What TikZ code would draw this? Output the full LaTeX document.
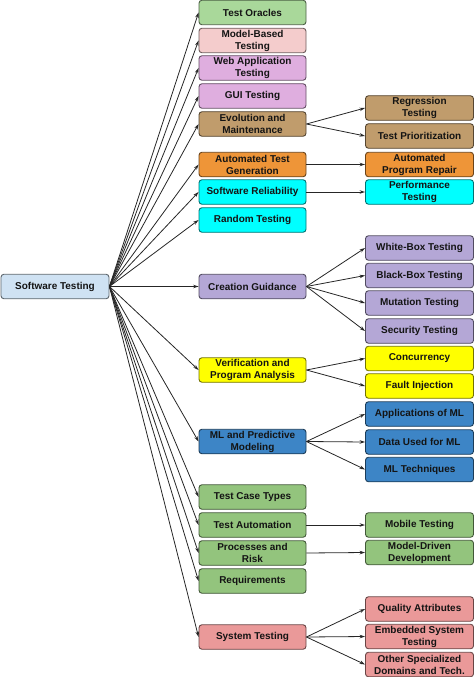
\documentclass[tikz,border=0pt]{standalone}
\usepackage{fontspec}
\setmainfont{Liberation Sans}
\usetikzlibrary{arrows.meta}
\definecolor{cRoot}{HTML}{CFE2F3}
\definecolor{cOra}{HTML}{A9D89A}
\definecolor{cMB}{HTML}{F4CCCC}
\definecolor{cWeb}{HTML}{DFAEDF}
\definecolor{cEvo}{HTML}{C09C6C}
\definecolor{cATG}{HTML}{EE9538}
\definecolor{cCyan}{HTML}{00FFFF}
\definecolor{cLav}{HTML}{B4A7D6}
\definecolor{cYel}{HTML}{FFFF00}
\definecolor{cBlue}{HTML}{3D85C6}
\definecolor{cGreen}{HTML}{93C47D}
\definecolor{cRed}{HTML}{EA9999}
\definecolor{cText}{HTML}{141414}
\tikzset{
  box/.style={rectangle, rounded corners=3bp, minimum width=107bp, minimum height=24.5bp,
    inner sep=0pt, align=center, text=cText, line width=0.9bp,
    font=\fontsize{10}{12}\selectfont\bfseries},
  fc/.style={box, fill=#1, draw=#1!45!black},
  arr/.style={-{Stealth[length=5.5bp,width=3.5bp]}, line width=0.8bp, black!85}
}
\begin{document}
\begin{tikzpicture}[x=1bp,y=-1bp]
\useasboundingbox (0,0) rectangle (474,677);
% root
\node[fc=cRoot, minimum width=108bp] (root) at (55,286.5) {Software Testing};
% middle column
\node[fc=cOra] (to) at (252.5,12.5) {Test Oracles};
\node[fc=cMB] (mb) at (252.5,40.5) {Model-Based\\Testing};
\node[fc=cWeb] (wa) at (252.5,68) {Web Application\\Testing};
\node[fc=cWeb] (gui) at (252.5,96) {GUI Testing};
\node[fc=cEvo] (em) at (252.5,124) {Evolution and\\Maintenance};
\node[fc=cATG] (atg) at (252.5,164.5) {Automated Test\\Generation};
\node[fc=cCyan] (sr) at (252.5,192) {Software Reliability};
\node[fc=cCyan] (rt) at (252.5,220) {Random Testing};
\node[fc=cLav] (cg) at (252.5,286.5) {Creation Guidance};
\node[fc=cYel] (vpa) at (252.5,370) {Verification and\\Program Analysis};
\node[fc=cBlue] (ml) at (252.5,441.5) {ML and Predictive\\Modeling};
\node[fc=cGreen] (tct) at (252.5,497) {Test Case Types};
\node[fc=cGreen] (ta) at (252.5,525) {Test Automation};
\node[fc=cGreen] (pr) at (252.5,553) {Processes and\\Risk};
\node[fc=cGreen] (req) at (252.5,581) {Requirements};
\node[fc=cRed] (st) at (252.5,637) {System Testing};
% right column
\node[fc=cEvo, minimum width=108bp] (reg) at (419.5,108) {Regression\\Testing};
\node[fc=cEvo, minimum width=108bp] (tp) at (419.5,136) {Test Prioritization};
\node[fc=cATG, minimum width=108bp] (apr) at (419.5,164.5) {Automated\\Program Repair};
\node[fc=cCyan, minimum width=108bp] (pt) at (419.5,192) {Performance\\Testing};
\node[fc=cLav, minimum width=108bp] (wb) at (419.5,248) {White-Box Testing};
\node[fc=cLav, minimum width=108bp] (bb) at (419.5,275.5) {Black-Box Testing};
\node[fc=cLav, minimum width=108bp] (mt) at (419.5,303) {Mutation Testing};
\node[fc=cLav, minimum width=108bp] (sec) at (419.5,331) {Security Testing};
\node[fc=cYel, minimum width=108bp] (conc) at (419.5,358.5) {Concurrency};
\node[fc=cYel, minimum width=108bp] (fi) at (419.5,386) {Fault Injection};
\node[fc=cBlue, minimum width=108bp] (aml) at (419.5,414) {Applications of ML};
\node[fc=cBlue, minimum width=108bp] (dml) at (419.5,442) {Data Used for ML};
\node[fc=cBlue, minimum width=108bp] (mlt) at (419.5,469.5) {ML Techniques};
\node[fc=cGreen, minimum width=108bp] (mob) at (419.5,525) {Mobile Testing};
\node[fc=cGreen, minimum width=108bp] (mdd) at (419.5,552.5) {Model-Driven\\Development};
\node[fc=cRed, minimum width=108bp] (qa) at (419.5,609) {Quality Attributes};
\node[fc=cRed, minimum width=108bp] (est) at (419.5,636.5) {Embedded System\\Testing};
\node[fc=cRed, minimum width=108bp] (osd) at (419.5,664.5) {Other Specialized\\Domains and Tech.};
% root edges
\foreach \n in {to,mb,wa,gui,em,atg,sr,rt,cg,vpa,ml,tct,ta,pr,req,st}
  \draw[arr] (root.east) -- (\n.west);
% child edges
\foreach \a/\b in {em/reg,em/tp,atg/apr,sr/pt,cg/wb,cg/bb,cg/mt,cg/sec,vpa/conc,vpa/fi,ml/aml,ml/dml,ml/mlt,ta/mob,pr/mdd,st/qa,st/est,st/osd}
  \draw[arr] (\a.east) -- (\b.west);
\end{tikzpicture}
\end{document}
